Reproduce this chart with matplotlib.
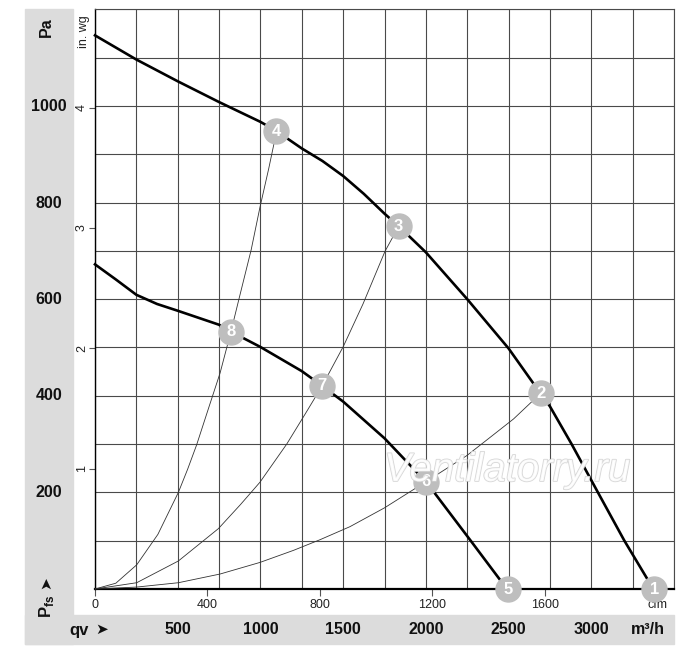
import matplotlib
matplotlib.use("Agg")
import matplotlib.pyplot as plt
import matplotlib.patheffects as pe
from matplotlib.patches import Rectangle

plt.rcParams['font.family'] = ['Liberation Sans', 'DejaVu Sans']
plt.rcParams['mathtext.fontset'] = 'custom'
plt.rcParams['mathtext.rm'] = 'Liberation Sans'
plt.rcParams['mathtext.bf'] = 'Liberation Sans:bold'

# fan curves (q in m3/h, p in Pa)
upper_q = [0, 250, 500, 750, 1000, 1097, 1250, 1375, 1500, 1625, 1750, 1836,
           2000, 2250, 2500, 2645, 2694, 2750, 2881, 3040, 3200, 3375]
upper_p = [1146, 1096, 1051, 1008, 967, 948, 912, 886, 855, 818, 777, 751,
           697, 600, 498, 428, 405, 378, 300, 200, 100, 0]

lower_q = [0, 125, 250, 375, 500, 750, 820, 1000, 1250, 1371, 1500, 1750,
           2000, 2050, 2271, 2490]
lower_p = [672, 641, 609, 590, 576, 547, 533, 501, 451, 421, 388, 312,
           222, 200, 100, 0]

# system (resistance) curves
sys_a_q = [0, 126, 252, 380, 504, 560, 614, 690, 756, 822, 870, 944, 997,
           1050, 1098]
sys_a_p = [0, 12, 50, 113, 200, 248, 298, 378, 447, 533, 600, 702, 790,
           870, 948]

sys_b_q = [0, 252, 504, 746, 880, 997, 1159, 1270, 1374, 1501, 1620, 1753, 1836]
sys_b_p = [0, 13, 58, 125, 175, 221, 300, 362, 421, 502, 590, 699, 751]

sys_c_q = [0, 252, 504, 756, 997, 1200, 1360, 1541, 1750, 2000, 2247, 2400,
           2530, 2694]
sys_c_p = [0, 4, 13, 31, 55, 80, 102, 129, 168, 222, 276, 317, 352, 405]

# numbered operating points
point_labels = ['1', '2', '3', '4', '5', '6', '7', '8']
point_q = [3380, 2694, 1836, 1097, 2495, 2000, 1371, 820]
point_p = [0, 405, 751, 948, 0, 222, 421, 533]

pa_ticks = [200, 400, 600, 800, 1000]
m3h_ticks = [500, 1000, 1500, 2000, 2500, 3000]
cfm_ticks = [0, 400, 800, 1200, 1600, 2000]
cfm_labels = ['0', '400', '800', '1200', '1600', 'cfm']
inwg_ticks = [1, 2, 3, 4]

W, H = 700, 663
GRAY = '#dcdcdc'
GRID = '#4a4a4a'


def fx(x):
    return x / W


def fy(y):
    return 1 - y / H


fig = plt.figure(figsize=(7, 6.63), dpi=100)

# L-shaped gray label band
fig.patches.append(Rectangle((fx(25), fy(644)), fx(48), 635 / H,
                             transform=fig.transFigure, color=GRAY, zorder=0))
fig.patches.append(Rectangle((fx(25), fy(644)), fx(649), 29 / H,
                             transform=fig.transFigure, color=GRAY, zorder=0))

ax = fig.add_axes([fx(95), fy(589), fx(579), 579.7 / H])
ax.set_xlim(0, 3500)
ax.set_ylim(0, 1200)
ax.set_xticks(range(0, 3501, 250))
ax.set_yticks(range(0, 1201, 100))
ax.tick_params(length=0, labelbottom=False, labelleft=False)
ax.grid(True, color=GRID, lw=0.8)
ax.set_axisbelow(True)
for s in ('top', 'right'):
    ax.spines[s].set_color(GRID)
    ax.spines[s].set_linewidth(0.8)
ax.spines['left'].set_color('black')
ax.spines['left'].set_linewidth(1.0)
ax.spines['bottom'].set_color('black')
ax.spines['bottom'].set_linewidth(1.6)

# thin system curves
for q, p in ((sys_a_q, sys_a_p), (sys_b_q, sys_b_p), (sys_c_q, sys_c_p)):
    ax.plot(q, p, color='#333333', lw=0.6, zorder=3, clip_on=False)

# fan curves
ax.plot(upper_q, upper_p, color='black', lw=1.9, zorder=4, clip_on=False,
        solid_joinstyle='round')
ax.plot(lower_q, lower_p, color='black', lw=1.9, zorder=4, clip_on=False,
        solid_joinstyle='round')

# secondary scales
cfm = ax.secondary_xaxis('bottom', functions=(lambda q: q / 1.699, lambda c: c * 1.699))
cfm.set_xticks(cfm_ticks, cfm_labels)
cfm.tick_params(length=5, width=0.8, color='#555555', pad=2, labelsize=9, labelcolor='#222222')
cfm.spines['bottom'].set_visible(False)

inwg = ax.secondary_yaxis('left', functions=(lambda p: p / 249.1, lambda w: w * 249.1))
inwg.set_yticks(inwg_ticks, [str(t) for t in inwg_ticks])
inwg.tick_params(length=4, width=0.8, color='#555555', pad=1, labelsize=9,
                 labelcolor='#222222', labelrotation=90)
for lab in inwg.get_yticklabels():
    lab.set_va('center')
inwg.spines['left'].set_visible(False)
fig.text(fx(84), fy(32), 'in. wg', rotation=90, ha='center', va='center',
         fontsize=9, color='#222222')

# numbered circles
ax.plot(point_q, point_p, 'o', ms=18, color='#bebebe', mec='#bebebe',
        zorder=6, clip_on=False)
for lab, q, p in zip(point_labels, point_q, point_p):
    ax.text(q, p, lab, color='white', fontsize=12, fontweight='bold',
            ha='center', va='center', zorder=7, clip_on=False)

# Pa labels in the left band
for v in pa_ticks:
    y = 589 - v * 0.4825
    fig.text(fx(49), fy(y), str(v), ha='center', va='center',
             fontsize=11.5, fontweight='bold', color='#111111')
fig.text(fx(46), fy(27), 'Pa', rotation=90, ha='center', va='center',
         fontsize=11.5, fontweight='bold', color='#111111')
fig.text(fx(47), fy(606), r'$\mathbf{P}_{\mathbf{fs}}$', rotation=90,
         ha='center', va='center', fontsize=12, color='#111111')
fig.text(fx(46), fy(583), '\u27a4', rotation=90, ha='center', va='center',
         fontsize=11, color='#111111', family=['DejaVu Sans'])

# m3/h labels in the bottom band
for v in m3h_ticks:
    x = 95 + v * 0.16543
    fig.text(fx(x), fy(629), str(v), ha='center', va='center',
             fontsize=11.5, fontweight='bold', color='#111111')
fig.text(fx(648), fy(629), 'm\u00b3/h', ha='center', va='center',
         fontsize=11.5, fontweight='bold', color='#111111')
fig.text(fx(79), fy(630), 'qv', ha='center', va='center',
         fontsize=12, fontweight='bold', color='#111111')
fig.text(fx(102), fy(629), '\u27a4', ha='center', va='center',
         fontsize=11, color='#111111', family=['DejaVu Sans'])

# watermark
fig.text(fx(507), fy(470), 'Ventilatorry.ru', ha='center', va='center',
         fontsize=29, style='italic', color='white', alpha=0.85, zorder=8,
         path_effects=[pe.withStroke(linewidth=1.2, foreground='#d0d0d0')])

fig.savefig('out.png', dpi=100)
